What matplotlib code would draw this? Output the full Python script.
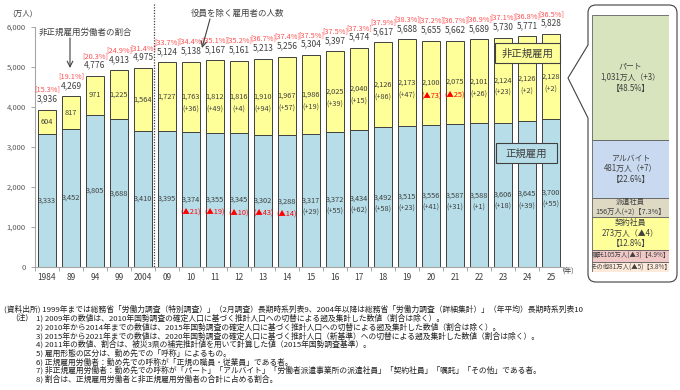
import matplotlib
matplotlib.use('Agg')
import matplotlib.pyplot as plt
from matplotlib.patches import PathPatch, Rectangle
from matplotlib.path import Path
import numpy as np

plt.rcParams['font.family'] = ['Noto Sans CJK JP', 'DejaVu Sans']

# ---------------- data ----------------
years = ['1984', '89', '94', '99', '2004', '09', '10', '11', '12', '13', '14',
         '15', '16', '17', '18', '19', '20', '21', '22', '23', '24', '25']
regular = [3333, 3452, 3805, 3688, 3410, 3395, 3374, 3355, 3345, 3302, 3288,
           3317, 3372, 3434, 3492, 3515, 3556, 3587, 3588, 3606, 3645, 3700]
nonregular = [604, 817, 971, 1225, 1564, 1727, 1763, 1812, 1816, 1910, 1967,
              1986, 2025, 2040, 2126, 2173, 2100, 2075, 2101, 2124, 2126, 2128]
totals = [3936, 4269, 4776, 4913, 4975, 5124, 5138, 5167, 5161, 5213, 5256,
          5304, 5397, 5474, 5617, 5688, 5655, 5662, 5689, 5730, 5771, 5828]
ratios = [15.3, 19.1, 20.3, 24.9, 31.4, 33.7, 34.4, 35.1, 35.2, 36.7, 37.4,
          37.5, 37.5, 37.3, 37.9, 38.3, 37.2, 36.7, 36.9, 37.1, 36.8, 36.5]
reg_change = [None, None, None, None, None, None, -21, -19, -10, -43, -14,
              29, 55, 62, 58, 23, 41, 31, 1, 18, 39, 55]
nonreg_change = [None, None, None, None, None, None, 36, 49, 4, 94, 57,
                 19, 39, 15, 86, 47, -73, -25, 26, 23, 2, 2]

bd_labels = ['パート', 'アルバイト', '派遣社員', '契約社員', '嘱託', 'その他']
bd_values = [1031, 481, 156, 273, 105, 81]
bd_changes = [3, 7, 2, -4, -3, -5]
bd_shares = [48.5, 22.6, 7.3, 12.8, 4.9, 3.8]
bd_colors = ['#d7e4bd', '#c9daf0', '#ddd9c3', '#ffff99', '#f0c8c6', '#fdeada']

note_source = '(資料出所) 1999年までは総務省「労働力調査（特別調査）」（2月調査）長期時系列表9、2004年以降は総務省「労働力調査（詳細集計）」（年平均）長期時系列表10'
notes = [
    '1) 2009年の数値は、2010年国勢調査の確定人口に基づく推計人口への切替による遡及集計した数値（割合は除く）。',
    '2) 2010年から2014年までの数値は、2015年国勢調査の確定人口に基づく推計人口への切替による遡及集計した数値（割合は除く）。',
    '3) 2015年から2021年までの数値は、2020年国勢調査の確定人口に基づく推計人口（新基準）への切替による遡及集計した数値（割合は除く）。',
    '4) 2011年の数値、割合は、被災3県の補完推計値を用いて計算した値（2015年国勢調査基準）。',
    '5) 雇用形態の区分は、勤め先での「呼称」によるもの。',
    '6) 正規雇用労働者：勤め先での呼称が「正規の職員・従業員」である者。',
    '7) 非正規雇用労働者：勤め先での呼称が「パート」「アルバイト」「労働者派遣事業所の派遣社員」「契約社員」「嘱託」「その他」である者。',
    '8) 割合は、正規雇用労働者と非正規雇用労働者の合計に占める割合。',
]

# ---------------- figure ----------------
W, H = 680, 390
fig = plt.figure(figsize=(W / 100, H / 100), dpi=100)

def fa(l, t, r, b):
    return [l / W, 1 - b / H, (r - l) / W, (b - t) / H]

ax = fig.add_axes(fa(35, 27, 563, 267))
x = np.arange(len(years))
bw = 0.79
ax.bar(x, regular, width=bw, color='#b7dee8', edgecolor='#404040', linewidth=0.7, zorder=2)
ax.bar(x, nonregular, bottom=regular, width=bw, color='#ffff99', edgecolor='#404040',
       linewidth=0.7, zorder=2)
ax.set_xlim(-0.456, 21.4)
ax.set_ylim(0, 6000)

dark = '#404040'
red = '#ff0000'

def chg_text(c):
    return f'(▲{-c})' if c < 0 else f'(+{c})'

for i in range(len(years)):
    top = regular[i] + nonregular[i]
    ax.text(i, top + 270, f'{totals[i]:,}', ha='center', va='center', fontsize=6, color=dark)
    ax.text(i, top + 500, f'[{ratios[i]:.1f}%]', ha='center', va='center', fontsize=5.3,
            color='#ff5050')
    rc = regular[i] / 2
    ax.text(i, rc, f'{regular[i]:,}', ha='center', va='center', fontsize=5.3, color=dark, zorder=3)
    if reg_change[i] is not None:
        ax.text(i, rc - 300, chg_text(reg_change[i]), ha='center', va='center', fontsize=5.3,
                color=red if reg_change[i] < 0 else dark, zorder=3)
    nc = regular[i] + nonregular[i] / 2
    ax.text(i, nc, f'{nonregular[i]:,}', ha='center', va='center', fontsize=5.3, color=dark, zorder=3)
    if nonreg_change[i] is not None:
        ax.text(i, nc - 320, chg_text(nonreg_change[i]), ha='center', va='center', fontsize=5.3,
                color=red if nonreg_change[i] < 0 else dark, zorder=3)

ax.set_yticks(range(0, 6001, 1000))
ax.set_yticklabels([f'{v:,}' for v in range(0, 6001, 1000)])
ax.tick_params(axis='y', labelsize=5.5, labelcolor='#595959', color='#a6a6a6', length=3, width=0.7)
ax.set_xticks(x)
ax.set_xticklabels(years)
ax.tick_params(axis='x', which='major', length=0, labelsize=6, labelcolor=dark, pad=4)
ax.set_xticks(np.arange(-0.5, len(years), 1), minor=True)
ax.tick_params(axis='x', which='minor', length=3, color='#a6a6a6', width=0.7)
for s in ['top', 'right']:
    ax.spines[s].set_visible(False)
for s in ['left', 'bottom']:
    ax.spines[s].set_color('#a6a6a6')
    ax.spines[s].set_linewidth(0.8)

# ---------------- overlay (annotations) ----------------
ov = fig.add_axes([0, 0, 1, 1], zorder=10)
ov.set_xlim(0, W)
ov.set_ylim(H, 0)
ov.axis('off')
ov.patch.set_alpha(0)

ov.plot([154, 154], [4, 267], ls=(0, (1, 1.2)), color=dark, lw=0.9)
ov.text(12, 14, '(万人)', fontsize=5.5, va='center', color=dark)
ov.text(39, 32, '非正規雇用労働者の割合', fontsize=6.1, va='center', color=dark)
ov.annotate('', xy=(70, 68), xytext=(70, 38),
            arrowprops=dict(arrowstyle='->', color=dark, lw=0.8, shrinkA=0, shrinkB=0))
ov.text(191, 13, '役員を除く雇用者の人数', fontsize=6.1, va='center', color=dark)
ov.annotate('', xy=(202, 48), xytext=(210, 19),
            arrowprops=dict(arrowstyle='->', color=dark, lw=0.8, shrinkA=0, shrinkB=0))
ov.text(562, 271, '(年)', fontsize=5, va='center', color=dark)

ov.add_patch(Rectangle((495, 43), 65, 20, fc='#ffff99', ec=dark, lw=0.8))
ov.text(527.5, 53.5, '非正規雇用', ha='center', va='center', fontsize=7.5, color=dark)
ov.add_patch(Rectangle((496, 143), 61, 20, fc='#b7dee8', ec=dark, lw=0.8))
ov.text(526.5, 153.5, '正規雇用', ha='center', va='center', fontsize=7.5, color=dark)

# rounded callout box
L, R, T, B, r = 588, 677, 5, 282, 8
verts = [(L + r, T), (R - r, T), (R, T), (R, T + r), (R, B - r), (R, B), (R - r, B),
         (L + r, B), (L, B), (L, B - r), (L, 118), (568, 78), (L, 45), (L, T + r), (L, T),
         (L + r, T), (L + r, T)]
codes = [Path.MOVETO, Path.LINETO, Path.CURVE3, Path.CURVE3, Path.LINETO, Path.CURVE3,
         Path.CURVE3, Path.LINETO, Path.CURVE3, Path.CURVE3, Path.LINETO, Path.LINETO,
         Path.LINETO, Path.LINETO, Path.CURVE3, Path.CURVE3, Path.CLOSEPOLY]
ov.add_patch(PathPatch(Path(verts, codes), fc='white', ec=dark, lw=0.8))

nfs = 5.6
ncol = '#202020'
ov.text(4, 312, note_source, fontsize=nfs, va='baseline', color=ncol)
for k, line in enumerate(notes):
    y = 312 + (k + 1) * 8.7
    if k == 0:
        ov.text(15, y, '(注)', fontsize=nfs, va='baseline', color=ncol)
    ov.text(36, y, line, fontsize=nfs, va='baseline', color=ncol)

# ---------------- breakdown panel ----------------
rax = fig.add_axes(fa(592, 15, 669, 272), zorder=20)
cum = 0
for lab, v, c, s, col in zip(bd_labels, bd_values, bd_changes, bd_shares, bd_colors):
    rax.bar(0, v, bottom=cum, width=1, color=col, edgecolor='#606060', linewidth=0.6)
    ctext = f'▲{-c}' if c < 0 else f'+{c}'
    if v >= 250:
        txt = f'{lab}\n{v:,}万人（{ctext}）\n【{s}%】'
        fs = 5.7
    elif v >= 150:
        txt = f'{lab}\n{v:,}万人({ctext})【{s}%】'
        fs = 5.2
    else:
        txt = f'{lab}{v:,}万人({ctext})【{s}%】'
        fs = 4.6
    rax.text(0, cum + v / 2, txt, ha='center', va='center', fontsize=fs, color=dark,
             linespacing=1.25)
    cum += v
rax.set_xlim(-0.5, 0.5)
rax.set_ylim(cum, 0)
rax.axis('off')

fig.savefig('out.png', dpi=100)
